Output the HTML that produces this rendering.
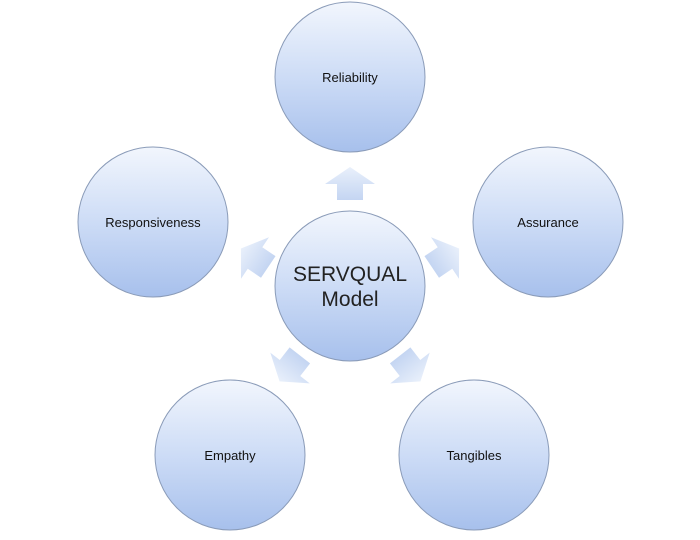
<!DOCTYPE html>
<html><head><style>
body{margin:0;background:#fff;width:700px;height:535px;overflow:hidden}
</style></head><body>
<svg width="700" height="535" viewBox="0 0 700 535" xmlns="http://www.w3.org/2000/svg">
<defs>
<linearGradient id="g" x1="0" y1="0" x2="0" y2="1">
<stop offset="0" stop-color="#f2f6fd"/>
<stop offset="0.5" stop-color="#cddcf6"/>
<stop offset="1" stop-color="#a7c0ec"/>
</linearGradient>
<linearGradient id="a" x1="0" y1="0" x2="0" y2="1">
<stop offset="0" stop-color="#e9f0fb"/>
<stop offset="1" stop-color="#c4d5f2"/>
</linearGradient>
<polygon id="arr" points="0,-17 25,0 13,0 13,16 -13,16 -13,0 -25,0" fill="url(#a)"/>
</defs>
<g stroke="#8a9bb8" stroke-width="1" fill="url(#g)">
<circle cx="350" cy="77" r="75"/>
<circle cx="153" cy="222" r="75"/>
<circle cx="548" cy="222" r="75"/>
<circle cx="230" cy="455" r="75"/>
<circle cx="474" cy="455" r="75"/>
<circle cx="350" cy="286" r="75"/>
</g>
<use href="#arr" transform="translate(350,184)"/>
<use href="#arr" transform="translate(255,258) rotate(-56)"/>
<use href="#arr" transform="translate(445,258) rotate(56)"/>
<use href="#arr" transform="translate(290,368) rotate(-142)"/>
<use href="#arr" transform="translate(410,368) rotate(142)"/>
<g font-family="Liberation Sans, sans-serif" font-size="13" fill="#111" text-anchor="middle">
<text x="350" y="82">Reliability</text>
<text x="153" y="227">Responsiveness</text>
<text x="548" y="227">Assurance</text>
<text x="230" y="460">Empathy</text>
<text x="474" y="460">Tangibles</text>
</g>
<g font-family="Liberation Sans, sans-serif" font-size="21" fill="#222" text-anchor="middle">
<text x="350" y="281">SERVQUAL</text>
<text x="350" y="306">Model</text>
</g>
</svg>
</body></html>
